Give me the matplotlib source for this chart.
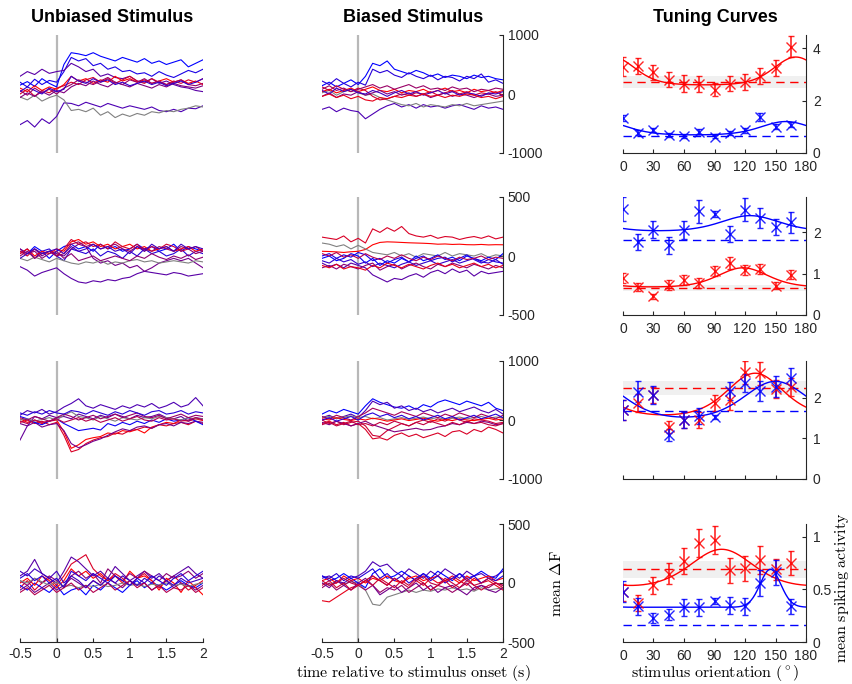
import numpy as np
import matplotlib.pyplot as plt

plt.rcParams['font.family'] = ['Liberation Sans', 'DejaVu Sans']
plt.rcParams['mathtext.fontset'] = 'cm'

# time axis of the trial-averaged traces (s)
t = np.arange(26) * 0.1 - 0.5

# ---- mean dF traces, one list per panel: (red fraction or 'g' for grey, values)
unbiased_1 = [
    (0.0, [150,210,130,260,180,120,500,700,680,650,700,640,600,560,620,580,540,600,520,560,500,540,580,460,520,580]),
    (0.1, [200,120,250,160,230,200,380,620,560,600,480,520,420,460,380,400,340,360,300,380,320,280,340,400,360,420]),
    (0.35, [300,380,330,420,350,380,400,520,460,380,420,300,340,280,260,300,220,200,260,180,220,160,120,100,60,40]),
    (0.3, [-520,-450,-560,-420,-500,-380,-150,-160,-200,-140,-180,-220,-160,-200,-240,-200,-230,-260,-220,-280,-300,-260,-300,-240,-250,-200]),
    ('g', [-50,-100,-20,-120,-60,-20,-100,-280,-260,-300,-240,-360,-300,-400,-340,-380,-330,-360,-300,-320,-280,-300,-260,-240,-200,-220]),
    (1.0, [100,40,140,60,120,80,160,300,220,260,180,240,200,300,220,260,200,240,180,220,260,200,240,180,220,160]),
    (0.85, [0,80,-40,60,20,100,140,200,160,240,280,200,260,180,240,300,220,180,260,200,160,220,180,240,200,260]),
    (0.6, [60,-20,100,20,80,0,100,160,240,200,160,220,280,200,160,240,200,260,180,220,160,200,240,160,140,180]),
    (0.5, [-60,20,-40,40,-20,60,20,120,180,140,220,160,120,200,160,120,180,140,100,160,120,180,140,120,100,140]),
    (0.2, [40,120,60,0,100,40,80,300,220,180,260,200,240,160,200,140,180,220,160,200,140,180,220,160,200,260]),
]
biased_1 = [
    (0.0, [140,200,120,180,240,160,300,520,480,560,420,380,340,400,360,300,340,280,320,300,260,320,280,300,260,240]),
    (0.15, [220,160,260,180,120,200,150,420,360,400,320,280,360,300,260,320,240,300,280,220,300,260,340,200,240,180]),
    (0.3, [-260,-220,-300,-240,-280,-300,-420,-340,-260,-200,-160,-220,-180,-240,-180,-220,-200,-240,-200,-180,-220,-260,-200,-240,-220,-260]),
    ('g', [20,60,-20,40,80,20,-20,0,-60,-100,-140,-180,-200,-160,-220,-180,-200,-220,-180,-200,-160,-200,-180,-160,-140,-120]),
    (1.0, [40,80,20,60,100,40,80,120,60,40,80,20,60,40,80,20,60,100,40,60,20,80,40,60,20,60]),
    (0.8, [120,60,140,80,40,100,60,-40,-100,-80,-40,0,-20,20,0,40,-20,20,60,0,40,-20,20,0,40,-20]),
    (0.6, [80,140,60,100,40,80,120,160,100,140,80,120,160,100,140,80,100,60,120,80,100,40,80,60,100,80]),
    (0.5, [-40,20,-60,0,-20,40,-20,20,60,0,40,-20,20,-40,0,-60,-20,20,-40,0,-20,-60,-20,0,-40,-20]),
    (0.25, [60,0,100,40,80,20,0,60,20,-40,20,60,0,40,-20,20,60,0,40,-20,20,0,-40,20,0,40]),
    (0.9, [-40,0,-60,-20,-80,-40,-100,-120,-60,-80,-40,-60,-20,-40,0,-40,-20,-60,-20,-40,0,-20,-60,-40,-80,-40]),
]
unbiased_2 = [
    (0.0, [60,20,80,40,-20,40,80,100,60,80,40,100,60,80,40,60,100,60,80,40,60,100,40,80,60,40]),
    (0.15, [20,60,-20,40,60,0,-40,60,40,20,60,0,40,20,-20,40,0,60,20,40,0,20,60,0,40,20]),
    (0.35, [-90,-120,-170,-140,-120,-100,-150,-190,-220,-230,-210,-220,-200,-210,-190,-180,-150,-130,-140,-150,-160,-140,-150,-170,-160,-150]),
    (0.45, [40,20,60,0,40,20,0,60,100,80,-20,-60,-40,-80,-60,-100,-80,-130,-100,-60,-40,-20,-40,-20,-60,-100]),
    ('g', [-20,-40,-10,-30,-50,-20,-40,-60,-70,-50,-60,-40,-70,-50,-60,-40,-30,-50,-40,-60,-50,-40,-50,-60,-40,-50]),
    (1.0, [20,60,0,40,20,60,40,120,140,100,120,80,100,60,80,100,60,80,40,60,80,40,60,80,40,60]),
    (0.8, [40,0,60,20,40,0,60,140,100,120,80,100,60,120,80,60,100,40,80,60,100,80,40,60,80,40]),
    (0.6, [0,40,-20,20,40,0,20,100,120,80,100,60,80,100,60,40,80,60,40,80,60,40,80,60,20,40]),
    (0.55, [60,20,40,-20,20,40,-20,20,-40,-20,0,-40,-20,0,-20,-40,0,-20,20,-10,-30,0,-20,10,-30,-10]),
    (0.25, [-20,20,60,20,40,60,20,80,40,60,100,60,80,40,60,20,80,40,100,60,80,40,100,60,80,60]),
]
biased_2 = [
    (0.85, [160,150,140,170,120,150,110,230,200,240,210,250,190,170,160,175,150,165,160,140,155,165,150,170,145,160]),
    (1.0, [40,38,35,30,36,40,55,95,115,120,118,115,112,110,108,105,100,102,98,100,96,95,98,94,96,95]),
    ('g', [110,100,80,95,60,90,60,30,20,10,30,0,20,-10,20,10,0,30,0,20,10,0,20,-10,10,0]),
    (0.35, [-60,-90,-70,-100,-60,-80,-100,-160,-190,-220,-190,-200,-170,-150,-180,-140,-120,-150,-110,-140,-120,-170,-130,-150,-140,-130]),
    (0.0, [-20,0,-40,-20,20,0,-60,-20,-80,-40,-60,-20,-50,0,-40,-20,10,-30,-10,-40,0,-20,-40,-10,-30,20]),
    (0.1, [0,20,-20,10,-10,30,10,-40,-20,-60,-30,-10,-50,-20,0,-40,-20,-10,-50,-20,10,-30,-60,-30,-50,-60]),
    (0.2, [-40,-60,-20,-50,-30,-70,-50,-90,-60,-80,-100,-70,-50,-80,-60,-40,-70,-50,-30,-60,-40,-20,-50,-60,-30,-70]),
    (0.55, [-100,-80,-110,-70,-90,-110,-80,-60,-120,-90,-70,-110,-80,-60,-90,-110,-70,-90,-60,-80,-100,-70,-90,-110,-80,-100]),
    (0.7, [20,0,30,-10,10,-20,20,-10,-30,0,-20,10,-20,-40,-10,-30,0,-20,-40,-10,-30,-20,0,-30,-10,-20]),
    (0.9, [-80,-100,-70,-110,-90,-100,-120,-80,-100,-60,-80,-100,-70,-90,-110,-80,-60,-90,-70,-100,-80,-60,-90,-70,-100,-80]),
]
unbiased_3 = [
    (1.0, [20,-40,0,-60,-20,0,-200,-480,-420,-330,-300,-280,-220,-240,-180,-200,-160,-220,-120,-80,-40,-60,0,-20,20,-10]),
    (0.85, [-40,0,-60,-20,-80,-40,-260,-540,-500,-400,-340,-300,-280,-220,-240,-180,-160,-120,-140,-80,-100,-60,-40,-80,-20,-60]),
    (0.45, [-60,-100,-40,-120,-80,-60,-180,-400,-470,-420,-360,-320,-260,-200,-150,-180,-120,-100,-140,-80,-60,-100,-40,-60,-20,-40]),
    (0.05, [60,20,-40,-80,-20,20,-60,-120,-180,-160,-140,-170,-60,-100,-40,-80,-20,-60,0,-40,20,-20,0,40,-20,-80]),
    (0.3, [80,160,120,180,100,140,220,280,360,240,200,260,220,180,240,200,260,220,280,200,240,300,220,260,380,240]),
    (0.4, [-340,-100,60,20,80,40,60,20,100,60,20,80,40,100,60,20,80,40,60,100,40,20,60,-20,40,20]),
    ('g', [0,20,-20,10,40,0,80,140,60,40,0,60,20,-20,40,20,0,40,20,60,40,20,0,40,20,20]),
    (0.6, [40,0,60,20,-20,40,100,60,0,40,80,20,60,100,40,80,120,60,40,80,20,60,100,40,80,60]),
    (0.15, [120,80,140,100,160,120,100,160,140,100,160,120,80,140,100,160,120,80,140,160,100,120,160,100,140,120]),
    (0.7, [-20,-60,0,-40,-20,20,-40,0,40,-20,20,-40,0,40,-20,20,60,0,-20,40,0,20,-20,0,40,0]),
]
biased_3 = [
    (0.0, [100,160,120,180,140,100,240,360,300,260,220,200,240,180,260,220,300,340,300,260,320,280,240,300,200,160]),
    (0.3, [40,80,20,60,100,40,160,320,260,300,200,240,160,200,140,180,120,160,200,140,180,220,160,120,180,100]),
    (0.85, [-60,-20,-80,-40,-100,-60,-160,-320,-300,-340,-260,-220,-280,-240,-300,-260,-220,-280,-200,-180,-240,-160,-200,-120,-160,-220]),
    (0.8, [0,-60,-20,-80,-40,-20,-100,-260,-280,-180,-120,-60,-100,-40,0,-40,20,-20,40,0,-40,20,0,-20,-60,-40]),
    (0.5, [-40,-80,-20,-60,-100,-60,-20,-80,-120,-160,-200,-180,-160,-140,-170,-160,-120,-100,-60,-80,-40,-60,-20,-40,-80,-60]),
    ('g', [40,60,30,50,70,40,60,20,40,0,20,40,10,30,50,20,40,10,30,50,20,40,60,30,50,40]),
    (1.0, [20,0,40,10,-10,20,0,30,10,-20,0,20,-10,10,30,0,-20,10,-10,20,0,-10,10,30,0,20]),
    (0.65, [60,20,80,40,0,60,120,200,160,120,80,140,100,60,120,80,40,100,60,120,80,40,100,60,20,80]),
    (0.15, [0,40,-20,20,60,0,80,120,60,100,40,80,20,60,0,40,80,20,60,0,40,80,20,60,100,40]),
    (0.75, [-80,-40,-100,-60,-20,-80,-60,-100,-40,-80,-20,-60,-100,-40,-80,-20,-60,-100,-40,-80,-20,-60,-40,-80,-100,-60]),
]
unbiased_4 = [
    (0.85, [-40,20,-60,0,40,-20,60,160,200,240,120,60,20,80,40,-20,40,80,20,-40,20,60,0,-60,-20,20]),
    (0.35, [60,100,200,80,40,0,100,220,180,120,60,100,40,140,80,20,60,100,40,80,20,60,100,140,80,40]),
    (0.0, [-20,-60,0,-40,-80,-20,-100,-60,-40,-100,-20,-60,0,-40,-80,-20,20,-40,0,-20,-60,-20,20,-20,-40,0]),
    (1.0, [0,40,-20,60,20,-40,20,120,60,100,40,80,20,60,0,100,40,60,20,-60,40,0,-80,20,-40,-100]),
    (0.55, [20,-20,40,0,60,20,-40,60,100,40,80,0,120,60,20,80,40,100,60,20,80,40,60,100,40,80]),
    (0.45, [-60,-20,-80,-40,0,-60,-20,40,0,-40,20,-20,40,0,-40,20,-20,0,-60,-20,20,-40,0,-20,-60,-20]),
    ('g', [20,0,40,10,-20,10,-30,-20,-40,-20,-30,-10,-30,-20,0,-20,-10,-30,-10,-20,0,-20,-10,-30,-10,0]),
    (0.15, [40,80,20,60,0,40,-40,100,60,20,80,40,0,60,20,-20,40,0,60,20,-20,40,80,20,60,100]),
    (0.7, [-80,-40,-100,-60,-20,-80,-40,0,-60,-20,-80,-40,0,-60,-20,20,-40,0,-60,-20,-80,-40,-60,-20,-80,-40]),
    (0.25, [100,60,120,80,40,100,0,60,20,-40,20,-20,40,0,60,20,-20,40,0,60,20,-20,40,0,20,40]),
]
biased_4 = [
    ('g', [0,-20,20,-10,10,0,-60,-180,-190,-120,-100,-80,-60,-80,-60,-70,-50,-60,-40,-60,-50,-70,-40,-60,-50,-40]),
    (0.9, [-150,-160,-120,-80,-40,-20,20,60,20,-20,40,0,60,20,-20,40,0,20,60,20,-20,40,0,20,-20,-60]),
    (0.3, [40,60,20,0,40,60,100,180,140,160,100,60,120,80,40,100,60,120,80,40,100,60,80,40,60,100]),
    (0.0, [60,20,40,80,40,0,-40,80,120,40,60,100,60,20,80,40,100,60,20,80,40,60,100,60,40,120]),
    (1.0, [20,40,0,60,20,40,0,40,20,60,20,0,40,60,20,40,60,20,40,0,60,20,40,60,20,40]),
    (0.6, [-40,0,-60,-20,20,-20,-60,-20,-80,-40,-60,-20,-80,-40,0,-60,-20,-40,-80,-40,0,-60,-20,-40,0,-20]),
    (0.45, [0,-40,20,-20,-60,0,40,-20,-100,-60,-20,-80,-40,0,-60,-20,-80,-40,-20,-60,-100,-40,-20,-60,-80,-40]),
    (0.15, [60,40,80,20,60,40,80,120,40,80,20,60,0,40,80,20,60,0,40,80,20,60,0,40,20,60]),
    (0.75, [20,-20,0,40,0,-20,20,60,20,-20,40,0,-40,20,60,0,-20,40,0,-40,20,-20,0,40,0,-20]),
    (0.8, [-20,20,-40,0,-60,-20,20,-20,40,0,-40,20,-20,40,0,-60,-20,20,-40,0,40,-20,-60,-20,0,-40]),
]
trace_ylims = [1000, 500, 1000, 500]

# ---- tuning curves
ori = np.arange(0, 180, 15)

red_mean = [
    [3.29, 3.33, 3.07, 2.80, 2.65, 2.63, 2.42, 2.65, 2.70, 2.94, 3.25, 4.06],
    [0.90, 0.67, 0.45, 0.73, 0.85, 0.77, 1.06, 1.26, 1.09, 1.11, 0.71, 0.97],
    [1.70, 1.86, 2.07, 1.27, 1.45, 1.45, 1.86, 1.94, 2.62, 2.60, 2.21, 2.27],
    [0.47, 0.37, 0.54, 0.65, 0.77, 0.94, 0.97, 0.68, 0.70, 0.78, 0.69, 0.75],
]
red_err = [
    [0.37, 0.30, 0.30, 0.30, 0.32, 0.30, 0.25, 0.28, 0.30, 0.30, 0.30, 0.40],
    [0.12, 0.10, 0.06, 0.12, 0.12, 0.12, 0.12, 0.15, 0.12, 0.13, 0.08, 0.11],
    [0.25, 0.22, 0.20, 0.15, 0.20, 0.20, 0.20, 0.25, 0.28, 0.28, 0.22, 0.22],
    [0.08, 0.08, 0.08, 0.10, 0.12, 0.13, 0.13, 0.12, 0.12, 0.13, 0.10, 0.11],
]
blue_mean = [
    [1.33, 0.78, 0.87, 0.68, 0.65, 0.81, 0.62, 0.75, 0.87, 1.37, 1.00, 1.08],
    [2.56, 1.76, 2.06, 1.68, 2.06, 2.50, 2.44, 1.96, 2.54, 2.34, 2.13, 2.24],
    [1.70, 2.15, 2.07, 1.09, 1.45, 1.55, 1.53, 2.16, 2.35, 2.16, 2.27, 2.49],
    [0.475, 0.34, 0.23, 0.26, 0.33, 0.33, 0.39, 0.35, 0.34, 0.56, 0.66, 0.34],
]
blue_err = [
    [0.12, 0.10, 0.08, 0.07, 0.07, 0.09, 0.05, 0.08, 0.09, 0.14, 0.10, 0.10],
    [0.28, 0.20, 0.20, 0.20, 0.22, 0.28, 0.08, 0.20, 0.28, 0.25, 0.20, 0.25],
    [0.25, 0.25, 0.22, 0.15, 0.20, 0.20, 0.05, 0.22, 0.22, 0.25, 0.25, 0.25],
    [0.10, 0.08, 0.05, 0.05, 0.08, 0.08, 0.03, 0.08, 0.08, 0.12, 0.12, 0.07],
]
# von Mises fit parameters: baseline, amplitude, preferred orientation, width
red_fit = [(2.57, 1.09, 170, 1.8), (0.65, 0.49, 118, 1.4), (1.45, 1.15, 130, 1.1), (0.45, 0.43, 97, 0.8)]
blue_fit = [(0.66, 0.54, 160, 1.4), (1.98, 0.42, 125, 1.0), (1.30, 1.10, 150, 0.8), (0.33, 0.36, 145, 8.0)]
red_spont = [2.70, 0.65, 2.24, 0.69]
red_spont_sem = [0.22, 0.08, 0.17, 0.08]
blue_spont = [0.66, 1.80, 1.67, 0.16]
tuning_ylims = [4.5, 2.85, 2.9, 1.12]
tuning_yticks = [[0, 2, 4], [0, 1, 2], [0, 1, 2], [0, 0.5, 1]]


def vonmises(th, b, a, pref, k):
    return b + a * np.exp(k * (np.cos(np.deg2rad(2 * (th - pref))) - 1))


def trace_color(f):
    if f == 'g':
        return (0.5, 0.5, 0.5)
    return (f, 0.0, 1.0 - f)


W, H = 853, 684
fig = plt.figure(figsize=(W / 100, H / 100), dpi=100)


def px_axes(x0, x1, top, h=118):
    return fig.add_axes([x0 / W, 1 - (top + h) / H, (x1 - x0) / W, h / H])


row_tops = [35, 197, 361, 524]
tick_col = '#262626'
panels = [(unbiased_1, biased_1), (unbiased_2, biased_2),
          (unbiased_3, biased_3), (unbiased_4, biased_4)]

for r, top in enumerate(row_tops):
    lim = trace_ylims[r]
    for c, (x0, x1) in enumerate([(20, 203), (322, 503)]):
        ax = px_axes(x0, x1, top)
        ax.axvline(0, color=(0.72, 0.72, 0.72), lw=1.6, zorder=0)
        for f, vals in panels[r][c]:
            ax.plot(t, vals, color=trace_color(f), lw=0.8)
        ax.set_xlim(-0.5, 2)
        ax.set_ylim(-lim, lim)
        for s in ['top', 'left']:
            ax.spines[s].set_visible(False)
        ax.patch.set_visible(False)
        ax.tick_params(direction='in', labelsize=10, colors=tick_col, length=3)
        if c == 0:
            ax.spines['right'].set_visible(False)
            ax.set_yticks([])
        else:
            ax.yaxis.tick_right()
            ax.set_yticks([-lim, 0, lim])
            ax.set_yticklabels([str(-lim), '0', str(lim)])
            ax.spines['right'].set_color(tick_col)
        if r == 3:
            ax.set_xticks([-0.5, 0, 0.5, 1, 1.5, 2])
            ax.set_xticklabels(['-0.5', '0', '0.5', '1', '1.5', '2'])
            ax.spines['bottom'].set_color(tick_col)
        else:
            ax.spines['bottom'].set_visible(False)
            ax.set_xticks([])

    # tuning curves
    ax = px_axes(623, 806, top)
    th = np.linspace(0, 180, 181)
    ax.fill_between([0, 180], red_spont[r] - red_spont_sem[r], red_spont[r] + red_spont_sem[r],
                    color=(0.94, 0.94, 0.94), lw=0, zorder=0)
    ax.axhline(red_spont[r], color='red', ls=(0, (6, 4)), lw=1)
    ax.axhline(blue_spont[r], color='blue', ls=(0, (6, 4)), lw=1)
    for mean, err, fit, col in [(red_mean[r], red_err[r], red_fit[r], 'red'),
                                (blue_mean[r], blue_err[r], blue_fit[r], 'blue')]:
        ax.plot(th, vonmises(th, *fit), color=col, lw=1)
        ax.errorbar(ori, mean, yerr=err, fmt='x', color=col, ms=7, mew=1,
                    elinewidth=1.2, capsize=2, alpha=0.85)
    ax.set_xlim(0, 180)
    ax.set_ylim(0, tuning_ylims[r])
    ax.set_xticks(np.arange(0, 181, 30))
    if r == 2:
        ax.set_xticklabels([])
    ax.set_yticks(tuning_yticks[r])
    ax.set_yticklabels([('%g' % v) for v in tuning_yticks[r]])
    ax.yaxis.tick_right()
    for s in ['top', 'left']:
        ax.spines[s].set_visible(False)
    for s in ['bottom', 'right']:
        ax.spines[s].set_color(tick_col)
    ax.patch.set_visible(False)
    ax.tick_params(direction='in', labelsize=10, colors=tick_col, length=3)
    ax.tick_params(axis='x', pad=5)
    ax.tick_params(axis='y', pad=5)

fig.text(112 / W, 1 - 18 / H, 'Unbiased Stimulus', ha='center', va='center',
         fontsize=13, fontweight='bold')
fig.text(413 / W, 1 - 18 / H, 'Biased Stimulus', ha='center', va='center',
         fontsize=13, fontweight='bold')
fig.text(715 / W, 1 - 18 / H, 'Tuning Curves', ha='center', va='center',
         fontsize=13, fontweight='bold')

fig.text(413 / W, 1 - 673 / H, r'$\mathrm{time\ relative\ to\ stimulus\ onset\ (s)}$',
         ha='center', va='center', fontsize=11.5)
fig.text(715 / W, 1 - 673 / H, r'$\mathrm{stimulus\ orientation\ (^\circ)}$',
         ha='center', va='center', fontsize=11.5)
fig.text(557 / W, 1 - 583 / H, r'$\mathrm{mean}\ \Delta\mathrm{F}$',
         ha='center', va='center', rotation=90, fontsize=11.5)
fig.text(842 / W, 1 - 588 / H, r'$\mathrm{mean\ spiking\ activity}$',
         ha='center', va='center', rotation=90, fontsize=11.5)

fig.savefig('out.png', dpi=100)
